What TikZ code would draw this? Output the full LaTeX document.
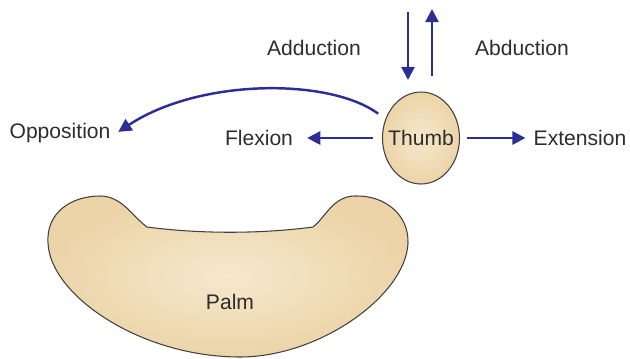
\documentclass[tikz,border=0pt]{standalone}
\usepackage{fontspec}
\setmainfont{Liberation Sans}
\usetikzlibrary{arrows.meta,shapes.geometric}
\definecolor{arr}{RGB}{45,45,150}
\definecolor{skin}{RGB}{236,212,168}
\definecolor{skinlight}{RGB}{246,232,205}
\definecolor{txt}{RGB}{45,45,45}
\begin{document}
\begin{tikzpicture}[x=0.02cm,y=-0.02cm,
  lbl/.style={font=\fontsize{12pt}{14pt}\selectfont,text=txt},
  mv/.style={draw=arr,line width=1.4pt,-{Triangle[length=7.5pt,width=7.5pt]}},
  body/.style={draw=black!75,line width=0.6pt,inner color=skinlight,outer color=skin}]
\useasboundingbox (0,0) rectangle (630,359);
% palm
\path[body] (147,227) .. controls (200,234) and (260,234) .. (313,227)
  .. controls (325,218) and (333,196) .. (355,196)
  .. controls (385,195) and (409,215) .. (408,243)
  .. controls (406,295) and (320,357) .. (240,357)
  .. controls (140,357) and (50,295) .. (48,243)
  .. controls (46,212) and (72,196) .. (100,196)
  .. controls (122,196) and (133,217) .. (147,227) -- cycle;
\node[lbl] (palm) at (230,302) {Palm};
% thumb
\node[ellipse,body,minimum width=77*0.02cm,minimum height=92*0.02cm,inner sep=0pt] (thumb) at (421,138) {};
\node[lbl] (thumbtext) at (thumb.center) {Thumb};
% labels
\node[lbl] (add) at (314,48) {Adduction};
\node[lbl] (abd) at (522,48) {Abduction};
\node[lbl] (flex) at (259,138) {Flexion};
\node[lbl] (ext) at (580,138) {Extension};
\node[lbl] (opp) at (60,133) {Opposition};
% arrow endpoints
\coordinate (d0) at (408,12);
\coordinate (d1) at (408,80);
\coordinate (u0) at (432,76);
\coordinate (u1) at (432,9);
% arrows
\draw[mv] (d0) -- (d1);
\draw[mv] (u0) -- (u1);
\draw[mv,shorten <=9*0.02cm,shorten >=8*0.02cm] (thumb.west) -- (flex.east);
\draw[mv,shorten <=7*0.02cm,shorten >=2*0.02cm] (thumb.east) -- (ext.west);
\draw[mv,shorten <=9*0.02cm,shorten >=2*0.02cm] (thumb.152) .. controls (330,78) and (200,78) .. (opp.east);
\end{tikzpicture}
\end{document}
